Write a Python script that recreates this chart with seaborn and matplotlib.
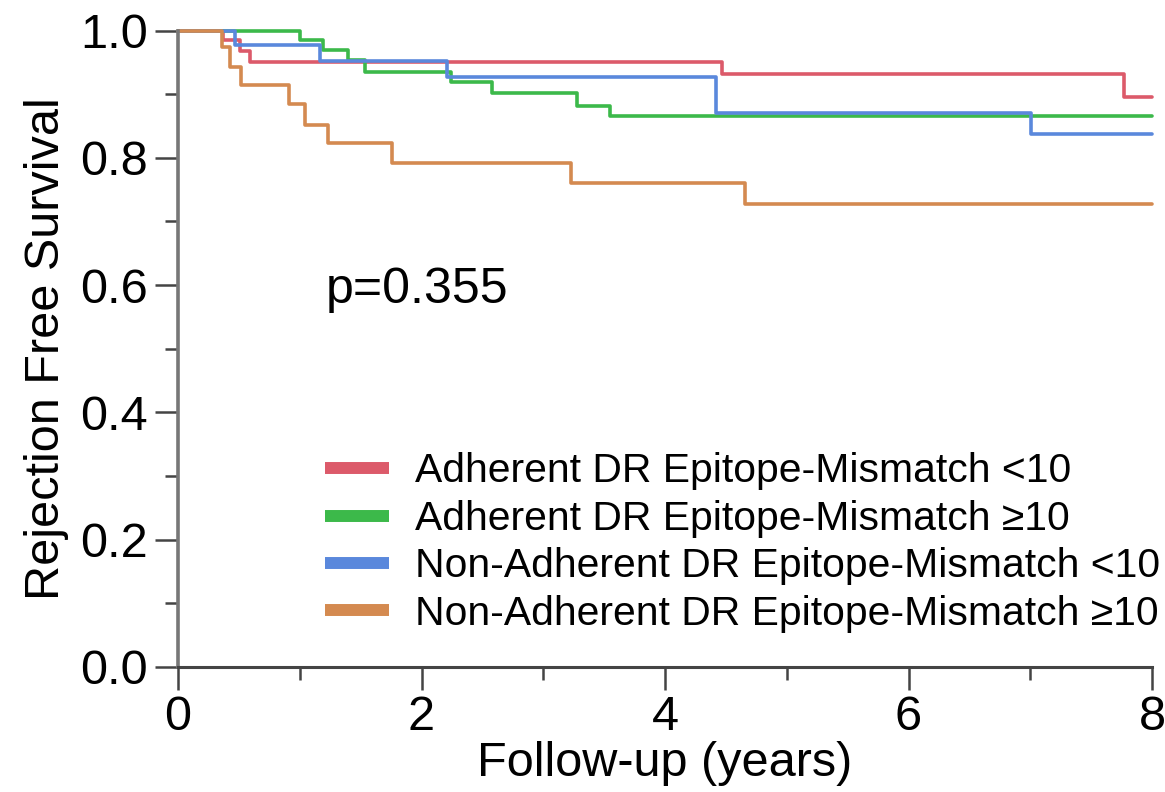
import numpy as np
import pandas as pd
import matplotlib
matplotlib.use("Agg")
import matplotlib.pyplot as plt
from matplotlib.ticker import MultipleLocator
import seaborn as sns

# Kaplan-Meier step values
groups = [
    "Adherent DR Epitope-Mismatch <10",
    "Adherent DR Epitope-Mismatch \u226510",
    "Non-Adherent DR Epitope-Mismatch <10",
    "Non-Adherent DR Epitope-Mismatch \u226510",
]
colors = ["#dc5a6a", "#3cb94a", "#5a88dc", "#d48a50"]

t_adh_lo = [0, 0.37, 0.51, 0.59, 4.47, 7.77, 8.0]
s_adh_lo = [1.0, 0.985, 0.968, 0.950, 0.932, 0.896, 0.896]

t_adh_hi = [0, 1.0, 1.19, 1.40, 1.54, 2.24, 2.58, 3.28, 3.55, 8.0]
s_adh_hi = [1.0, 0.985, 0.969, 0.953, 0.935, 0.919, 0.902, 0.881, 0.865, 0.865]

t_non_lo = [0, 0.47, 1.17, 2.21, 4.42, 7.01, 8.0]
s_non_lo = [1.0, 0.978, 0.952, 0.927, 0.871, 0.837, 0.837]

t_non_hi = [0, 0.36, 0.43, 0.52, 0.91, 1.04, 1.23, 1.76, 3.23, 4.66, 8.0]
s_non_hi = [1.0, 0.974, 0.943, 0.914, 0.884, 0.852, 0.823, 0.792, 0.761, 0.727, 0.727]

p_text = "p=0.355"

times = [t_adh_lo, t_adh_hi, t_non_lo, t_non_hi]
survs = [s_adh_lo, s_adh_hi, s_non_lo, s_non_hi]
df = pd.concat(
    [pd.DataFrame({"time": t, "surv": s, "group": g}) for g, t, s in zip(groups, times, survs)],
    ignore_index=True,
)

sns.set_style("ticks")
plt.rcParams["font.family"] = ["Liberation Sans", "DejaVu Sans"]
plt.rcParams["text.color"] = "black"
plt.rcParams["axes.labelcolor"] = "black"
plt.rcParams["xtick.labelcolor"] = "black"
plt.rcParams["ytick.labelcolor"] = "black"

fig = plt.figure(figsize=(11.65, 7.92), dpi=100)
ax = fig.add_axes([178 / 1165, 1 - 667 / 792, 974 / 1165, 636.5 / 792])

sns.lineplot(data=df, x="time", y="surv", hue="group", palette=dict(zip(groups, colors)),
             drawstyle="steps-post", estimator=None, sort=False, linewidth=2.6,
             ax=ax, legend=False, clip_on=False)

ax.set_xlim(0, 8)
ax.set_ylim(0, 1)
ax.spines["top"].set_visible(False)
ax.spines["right"].set_visible(False)
ax.spines["left"].set_color("#777777")
ax.spines["left"].set_linewidth(2.6)
ax.spines["bottom"].set_color("#444444")
ax.spines["bottom"].set_linewidth(2.2)

ax.xaxis.set_major_locator(MultipleLocator(2))
ax.xaxis.set_minor_locator(MultipleLocator(1))
ax.yaxis.set_major_locator(MultipleLocator(0.2))
ax.yaxis.set_minor_locator(MultipleLocator(0.1))
ax.set_xticks([0, 2, 4, 6, 8])
ax.set_yticks([0, 0.2, 0.4, 0.6, 0.8, 1.0])
ax.set_yticklabels(["0.0", "0.2", "0.4", "0.6", "0.8", "1.0"])
ax.tick_params(which="major", length=16.5, width=1.8, color="#444444", labelsize=35, direction="out")
ax.tick_params(which="minor", length=9.5, width=1.8, color="#444444", direction="out")
ax.tick_params(axis="x", which="major", pad=4)
ax.tick_params(axis="y", which="major", pad=5)

ax.set_xlabel("Follow-up (years)", fontsize=35, labelpad=0)
ax.set_ylabel("Rejection Free Survival", fontsize=35, labelpad=8)
ax.xaxis.set_label_coords(0.5, -0.116)

ax.text(1.21, 0.572, p_text, fontsize=36, va="baseline", ha="left")

handles = [plt.Line2D([], [], color=c, linewidth=8.6, solid_capstyle="butt") for c in colors]
ax.legend(handles, groups, loc="upper left", bbox_to_anchor=((325 - 178) / 974, 0.337),
          frameon=False, fontsize=29.4, handlelength=1.57, handletextpad=0.64,
          labelspacing=0.23, borderpad=0, borderaxespad=0)

fig.savefig("out.png", dpi=100)
